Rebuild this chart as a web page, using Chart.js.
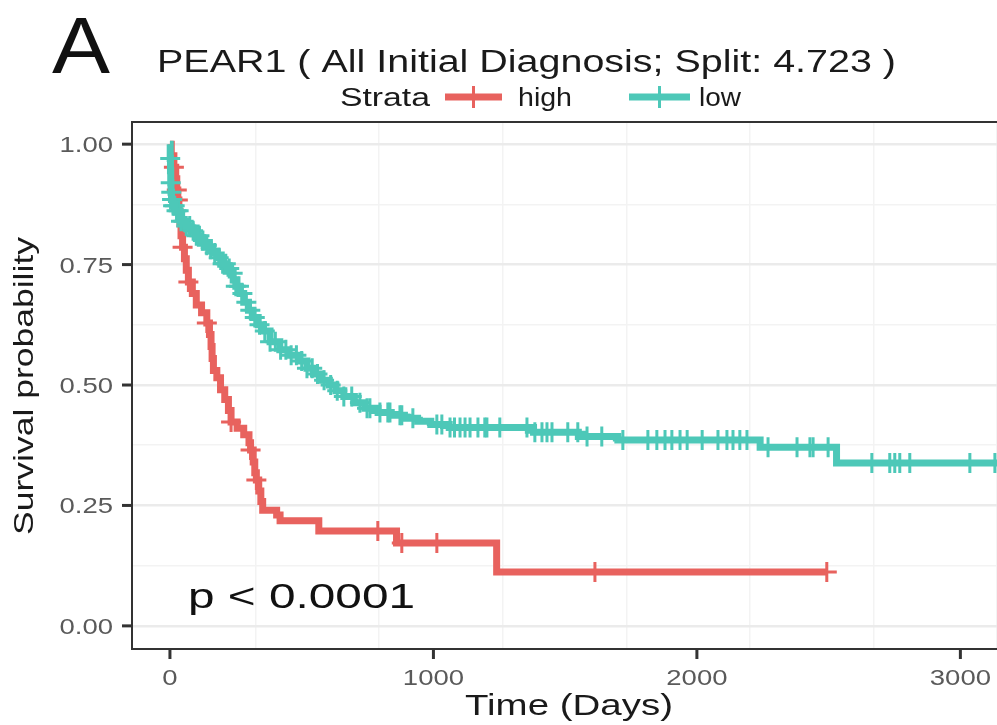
<!DOCTYPE html>
<html>
<head>
<meta charset="utf-8">
<script src="https://cdn.jsdelivr.net/npm/chart.js@4.4.1/dist/chart.umd.min.js"></script>
<style>
  html, body { margin: 0; padding: 0; background: #fff; overflow: hidden; }
  #wrap { width: 997px; height: 725px; }
</style>
</head>
<body>
<div id="wrap"><canvas id="km" width="997" height="725"></canvas></div>
<script>
// Kaplan-Meier curves (time in days, survival probability)
const timeHigh = [0, 5, 15, 22, 26, 30, 34, 38, 42, 48, 55, 62, 70, 85, 100, 120, 140, 150, 156, 160, 165, 178, 192, 208, 222, 232, 255, 280, 300, 306, 316, 322, 328, 337, 345, 352, 405, 418, 565, 860, 1240, 2493];
const survHigh = [1.0, 0.976, 0.952, 0.928, 0.905, 0.884, 0.86, 0.835, 0.81, 0.786, 0.762, 0.738, 0.714, 0.69, 0.666, 0.65, 0.629, 0.605, 0.58, 0.555, 0.53, 0.515, 0.49, 0.47, 0.447, 0.423, 0.41, 0.397, 0.38, 0.365, 0.34, 0.318, 0.303, 0.28, 0.258, 0.24, 0.23, 0.218, 0.197, 0.172, 0.112, 0.112];
const censorHigh = [15, 26, 30, 48, 70, 140, 232, 306, 328, 789, 880, 1013, 1613, 2493];

const timeLow = [0, 1, 2, 3, 4, 6, 10, 20, 38, 60, 80, 100, 114, 130, 150, 163, 180, 200, 215, 228, 240, 250, 266, 280, 298, 315, 335, 355, 380, 417, 450, 493, 520, 545, 575, 605, 630, 660, 700, 740, 790, 840, 890, 940, 990, 1060, 1380, 1550, 1700, 2240, 2530, 3250];
const survLow = [1.0, 0.97, 0.945, 0.92, 0.9, 0.885, 0.872, 0.862, 0.84, 0.83, 0.82, 0.81, 0.8, 0.79, 0.782, 0.774, 0.764, 0.752, 0.742, 0.732, 0.718, 0.705, 0.69, 0.672, 0.655, 0.64, 0.625, 0.612, 0.59, 0.573, 0.562, 0.55, 0.535, 0.523, 0.51, 0.5, 0.488, 0.476, 0.463, 0.452, 0.443, 0.437, 0.431, 0.425, 0.418, 0.412, 0.402, 0.393, 0.386, 0.371, 0.338, 0.338];
const censorLow = [1, 3, 5, 8, 12, 18, 25, 33, 42, 52, 62, 75, 88, 100, 112, 125, 140, 155, 170, 185, 200, 212, 225, 238, 250, 262, 275, 290, 305, 322, 340, 360, 380, 400, 420, 440, 460, 480, 500, 520, 540, 560, 585, 610, 635, 660, 690, 721, 748, 759, 797, 827, 835, 873, 880, 922, 1013, 1032, 1063, 1080, 1101, 1120, 1139, 1169, 1195, 1203, 1252, 1355, 1385, 1412, 1431, 1450, 1510, 1548, 1583, 1639, 1719, 1814, 1848, 1879, 1905, 1936, 1963, 2020, 2080, 2114, 2137, 2163, 2190, 2270, 2380, 2429, 2441, 2498, 2664, 2732, 2751, 2770, 2808, 3036, 3131];

const xTicks = [0, 1000, 2000, 3000];
const yTicks = [0, 0.25, 0.5, 0.75, 1.0];
const strata = ["high", "low"];

const RED = "#E8625E";
const TEAL = "#4DC8B8";
const FONT = '"Liberation Sans", Arial, sans-serif';

// survival value of the step curve at time t (censor marks sit on the curve)
function stepAt(times, surv, t) {
  let s = surv[0];
  for (let i = 0; i < times.length; i++) {
    if (times[i] <= t) s = surv[i];
  }
  return s;
}

// draw text stretched to a given width (the figure's text is wider than Arial)
function fitText(ctx, text, left, baseline, size, width, color) {
  ctx.save();
  ctx.font = size + "px " + FONT;
  ctx.fillStyle = color;
  ctx.textBaseline = "alphabetic";
  ctx.textAlign = "left";
  const w = ctx.measureText(text).width;
  ctx.translate(left, baseline);
  ctx.scale(width / w, 1);
  ctx.fillText(text, 0, 0);
  ctx.restore();
}

function legendKey(ctx, x0, x1, y, color) {
  ctx.save();
  ctx.strokeStyle = color;
  ctx.lineWidth = 7;
  ctx.beginPath(); ctx.moveTo(x0, y); ctx.lineTo(x1, y); ctx.stroke();
  ctx.lineWidth = 3;
  const cx = (x0 + x1) / 2;
  ctx.beginPath(); ctx.moveTo(cx, y - 11); ctx.lineTo(cx, y + 11); ctx.stroke();
  ctx.restore();
}

const decorations = {
  id: "decorations",
  afterDraw(chart) {
    const ctx = chart.ctx;
    const a = chart.chartArea;
    const xs = chart.scales.x, ys = chart.scales.y;

    // panel border (right side is cut off in the figure)
    ctx.save();
    ctx.strokeStyle = "#333333";
    ctx.lineWidth = 2;
    ctx.beginPath();
    ctx.moveTo(a.right + 2, a.top);
    ctx.lineTo(a.left, a.top);
    ctx.lineTo(a.left, a.bottom);
    ctx.lineTo(a.right + 2, a.bottom);
    ctx.stroke();

    // axis ticks
    ctx.lineWidth = 3;
    yTicks.forEach(v => {
      const py = ys.getPixelForValue(v);
      ctx.beginPath(); ctx.moveTo(a.left - 10, py); ctx.lineTo(a.left, py); ctx.stroke();
    });
    xTicks.forEach(v => {
      const px = xs.getPixelForValue(v);
      ctx.beginPath(); ctx.moveTo(px, a.bottom); ctx.lineTo(px, a.bottom + 10); ctx.stroke();
    });
    ctx.restore();

    // tick labels
    const tickSize = 22, stretch = 1.25;
    yTicks.forEach(v => {
      const lab = v.toFixed(2);
      ctx.font = tickSize + "px " + FONT;
      const w = ctx.measureText(lab).width * stretch;
      fitText(ctx, lab, 113 - w, ys.getPixelForValue(v) + 8, tickSize, w, "#5a5a5a");
    });
    xTicks.forEach(v => {
      const lab = String(v);
      ctx.font = tickSize + "px " + FONT;
      const w = ctx.measureText(lab).width * stretch;
      fitText(ctx, lab, xs.getPixelForValue(v) - w / 2, 685, tickSize, w, "#5a5a5a");
    });

    // axis titles
    fitText(ctx, "Time (Days)", 465, 715, 30, 208, "#1a1a1a");
    ctx.save();
    ctx.translate(33, 386);
    ctx.rotate(-Math.PI / 2);
    fitText(ctx, "Survival probability", -149, 0, 28, 298, "#1a1a1a");
    ctx.restore();

    // panel letter, title, legend
    fitText(ctx, "A", 52, 73, 80, 58, "#111111");
    fitText(ctx, "PEAR1 ( All Initial Diagnosis; Split: 4.723 )", 157, 72, 31, 739, "#1a1a1a");
    fitText(ctx, "Strata", 340, 106, 25, 90, "#1a1a1a");
    legendKey(ctx, 445, 502, 97, RED);
    fitText(ctx, strata[0], 518, 106, 25, 54, "#1a1a1a");
    legendKey(ctx, 629, 690, 97, TEAL);
    fitText(ctx, strata[1], 699, 106, 25, 42, "#1a1a1a");

    // p-value
    fitText(ctx, "p < 0.0001", 188, 608, 35, 227, "#111111");
  }
};

const lowLine = timeLow.map((t, i) => ({ x: t, y: survLow[i] }));
const highLine = timeHigh.map((t, i) => ({ x: t, y: survHigh[i] }));
const lowCens = censorLow.map(t => ({ x: t, y: stepAt(timeLow, survLow, t) }));
const highCens = censorHigh.map(t => ({ x: t, y: stepAt(timeHigh, survHigh, t) }));

new Chart(document.getElementById("km"), {
  type: "line",
  data: {
    datasets: [
      { label: strata[1], data: lowLine, stepped: true, borderColor: TEAL, borderWidth: 7, pointRadius: 0, fill: false },
      { label: strata[1] + " censor", type: "scatter", data: lowCens, pointStyle: "cross", pointRadius: 10, borderColor: TEAL, backgroundColor: TEAL, borderWidth: 3, showLine: false },
      { label: strata[0], data: highLine, stepped: true, borderColor: RED, borderWidth: 7, pointRadius: 0, fill: false },
      { label: strata[0] + " censor", type: "scatter", data: highCens, pointStyle: "cross", pointRadius: 10, borderColor: RED, backgroundColor: RED, borderWidth: 3, showLine: false }
    ]
  },
  options: {
    responsive: false,
    animation: false,
    events: [],
    layout: { autoPadding: false, padding: { left: 132, top: 122, right: 0, bottom: 76 } },
    plugins: { legend: { display: false }, title: { display: false }, tooltip: { enabled: false } },
    scales: {
      x: {
        type: "linear",
        min: -144,
        max: 3139,
        afterFit(s) { s.height = 0; },
        border: { display: false },
        ticks: { display: false, stepSize: 500, includeBounds: false },
        grid: {
          drawTicks: false,
          color: c => (c.tick && c.tick.value % 1000 === 0) ? "#ebebeb" : "#f3f3f3",
          lineWidth: c => (c.tick && c.tick.value % 1000 === 0) ? 2.5 : 1.5
        }
      },
      y: {
        type: "linear",
        min: -0.048,
        max: 1.046,
        afterFit(s) { s.width = 0; },
        border: { display: false },
        ticks: { display: false, stepSize: 0.125, includeBounds: false },
        grid: {
          drawTicks: false,
          color: c => (c.tick && Math.abs(c.tick.value * 4 - Math.round(c.tick.value * 4)) < 1e-6) ? "#ebebeb" : "#f3f3f3",
          lineWidth: c => (c.tick && Math.abs(c.tick.value * 4 - Math.round(c.tick.value * 4)) < 1e-6) ? 2.5 : 1.5
        }
      }
    }
  },
  plugins: [decorations]
});
</script>
</body>
</html>
